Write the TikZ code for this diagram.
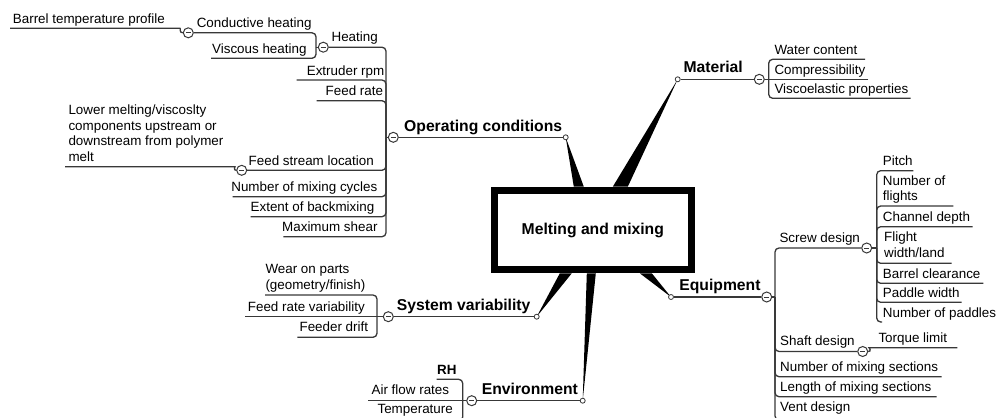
\documentclass[tikz,border=0pt]{standalone}
\usepackage{fontspec}
\setmainfont{Liberation Sans}
\usetikzlibrary{backgrounds}
\begin{document}
\begin{tikzpicture}[x=1pt,y=-1pt,
  topic/.style={font=\fontsize{13.4}{15.5}\selectfont, inner sep=0pt, align=left},
  boldtopic/.style={font=\bfseries\fontsize{13.4}{15.5}\selectfont, inner sep=0pt},
  branch/.style={font=\bfseries\fontsize{15.7}{18}\selectfont, inner sep=0pt},
  link/.style={draw=black!78, line width=1.3pt, rounded corners=4pt},
  toggle/.style={circle, draw=black!78, fill=white, line width=1pt, minimum size=10pt, inner sep=0pt,
    path picture={\draw[line width=1pt, black!78]
      ([xshift=2.6pt]path picture bounding box.west) -- ([xshift=-2.6pt]path picture bounding box.east);}},
  knob/.style={circle, draw=black!78, fill=white, line width=0.8pt, minimum size=5pt, inner sep=0pt},
  hub/.style={draw=black, line width=7pt, fill=white, minimum width=197pt, minimum height=79.6pt,
    inner sep=0pt, font=\bfseries\fontsize{15.7}{18}\selectfont},
  wedge/.style={fill=black}
]
\useasboundingbox (0,0) rectangle (997,418);
\clip (0,0) rectangle (997,418);

% ---------- central topic ----------
\node[hub] (hub) at (592.8,230) {Melting and mixing};

% ---------- Operating conditions ----------
\node[branch, anchor=base west] (op) at (404,131) {Operating conditions};
\node[toggle] (tOp) at (393.3,137.3) {};
\node[knob] (kOp) at (565.7,137.3) {};
\coordinate (sOp) at (386,137.3);

\node[topic, anchor=base east] (heat) at (378,41.8) {Heating};
\node[toggle] (tHeat) at (323.3,47.2) {};
\coordinate (sHeat) at (316,47.2);
\node[topic, anchor=base east] (cond) at (311.7,27.6) {Conductive heating};
\node[toggle] (tCond) at (188.3,32.8) {};
\node[topic, anchor=base east] (visc) at (306.7,53.3) {Viscous heating};
\coordinate (eVisc) at (211,58.3);
\node[topic, anchor=base west] (barrel) at (12.7,23.3) {Barrel temperature profile};
\coordinate (eBarrel) at (10,28.3);
\coordinate (jBarrel) at (176,28.3);

\node[topic, anchor=base east] (rpm) at (384.5,75) {Extruder rpm};
\coordinate (eRpm) at (296.7,80);
\node[topic, anchor=base east] (frate) at (383.3,95.5) {Feed rate};
\coordinate (eFrate) at (316.7,100.7);
\node[topic, anchor=base east] (fstream) at (374,165) {Feed stream location};
\node[toggle] (tFstream) at (241.7,170.3) {};
% multi-line nodes: the base anchor sits on the last line
\node[topic, anchor=base west] (lower) at (68.3,161)
  {Lower melting/viscoslty\\components upstream or\\downstream from polymer\\melt};
\coordinate (eLower) at (65,166.7);
\coordinate (jLower) at (231,166.7);
\node[topic, anchor=base east] (ncyc) at (377.5,191.5) {Number of mixing cycles};
\coordinate (eNcyc) at (232.7,196.7);
\node[topic, anchor=base east] (back) at (374.5,211.5) {Extent of backmixing};
\coordinate (eBack) at (250.7,216.7);
\node[topic, anchor=base east] (shear) at (377.7,231.5) {Maximum shear};
\coordinate (eShear) at (283.3,236.7);

% ---------- System variability ----------
\node[branch, anchor=base west] (sys) at (396.7,310.7) {System variability};
\node[toggle] (tSys) at (388.3,316.7) {};
\node[knob] (kSys) at (536.7,316.7) {};
\coordinate (sSys) at (377,316.7);
\node[topic, anchor=base west] (wear) at (265.3,289) {Wear on parts\\(geometry/finish)};
\coordinate (eWear) at (265,295);
\node[topic, anchor=base east] (fvar) at (365,311) {Feed rate variability};
\coordinate (eFvar) at (245,316.7);
\node[topic, anchor=base east] (drift) at (368.3,331.7) {Feeder drift};
\coordinate (eDrift) at (297.3,337.3);

% ---------- Environment ----------
\node[branch, anchor=base west] (env) at (481.7,394.5) {Environment};
\node[toggle] (tEnv) at (471.7,400.7) {};
\node[knob] (kEnv) at (582.7,400.7) {};
\coordinate (sEnv) at (462.7,400.7);
\node[boldtopic, anchor=base east] (rh) at (456.7,374.3) {RH};
\coordinate (eRh) at (436.7,379.3);
\node[topic, anchor=base east] (air) at (449.3,394.5) {Air flow rates};
\coordinate (eAir) at (368.3,400.7);
\node[topic, anchor=base east] (temp) at (453,413.5) {Temperature};
\coordinate (eTemp) at (375,421);

% ---------- Material ----------
\node[knob] (kMat) at (677.7,79.3) {};
\node[branch, anchor=base west] (mat) at (683.3,72.5) {Material};
\node[toggle] (tMat) at (759.3,79.3) {};
\coordinate (sMat) at (768.7,79.3);
\node[topic, anchor=base west] (water) at (774.3,54) {Water content};
\coordinate (eWater) at (865,59.3);
\node[topic, anchor=base west] (comp) at (774.3,74.3) {Compressibility};
\coordinate (eComp) at (868.3,79.3);
\node[topic, anchor=base west] (visco) at (774.3,93.3) {Viscoelastic properties};
\coordinate (eVisco) at (910.7,98.3);

% ---------- Equipment ----------
\node[knob] (kEq) at (671,297) {};
\node[branch, anchor=base east] (eq) at (760.7,290.5) {Equipment};
\node[toggle] (tEq) at (766.7,297) {};
\coordinate (sEq) at (775,297);

\node[topic, anchor=base west] (screw) at (779.3,242.8) {Screw design};
\node[toggle] (tScrew) at (866.7,248) {};
\coordinate (sScrew) at (876.7,248);
\node[topic, anchor=base west] (pitch) at (882.7,165.3) {Pitch};
\coordinate (ePitch) at (913.3,170.7);
\node[topic, anchor=base west] (nfl) at (882.7,200.5) {Number of\\flights};
\coordinate (eNfl) at (953.3,206);
\node[topic, anchor=base west] (chan) at (882.7,221.2) {Channel depth};
\coordinate (eChan) at (972.7,226.7);
\node[topic, anchor=base west] (flw) at (884,257) {Flight\\width/land};
\coordinate (eFlw) at (951.7,263.3);
\node[topic, anchor=base west] (bcl) at (882.7,278) {Barrel clearance};
\coordinate (eBcl) at (983.3,283.3);
\node[topic, anchor=base west] (pw) at (882.7,297) {Paddle width};
\coordinate (ePw) at (961.7,302.3);
\node[topic, anchor=base west] (npad) at (882.7,317) {Number of paddles};
\coordinate (eNpad) at (882,322);

\node[topic, anchor=base west] (shaft) at (780,345.5) {Shaft design};
\node[toggle] (tShaft) at (862.7,351.5) {};
\node[topic, anchor=base west] (torque) at (878.3,342.3) {Torque limit};
\coordinate (jTorque) at (873,347.7);
\coordinate (eTorque) at (957.3,347.7);
\node[topic, anchor=base west] (nsec) at (780,371.3) {Number of mixing sections};
\coordinate (eNsec) at (941.7,376.7);
\node[topic, anchor=base west] (lsec) at (780,391.3) {Length of mixing sections};
\coordinate (eLsec) at (936.7,396.7);
\node[topic, anchor=base west] (vent) at (780,411) {Vent design};
\coordinate (eVent) at (860,420);

% ---------- connectors, behind the nodes ----------
\begin{scope}[on background layer]
  \fill[white] (0,0) rectangle (997,418);

  % tapered links from the central topic
  \fill[wedge] (kOp.center) -- ([xshift=-19pt]hub.north) -- ([xshift=-9pt]hub.north) -- cycle;
  \fill[wedge] (kMat.center) -- ([xshift=20pt]hub.north) -- ([xshift=35pt]hub.north) -- cycle;
  \fill[wedge] (kEq.center) -- ([xshift=47pt]hub.south) -- ([xshift=59pt]hub.south) -- cycle;
  \fill[wedge] (kSys.center) -- ([xshift=-33pt]hub.south) -- ([xshift=-21pt]hub.south) -- cycle;
  \fill[wedge] (kEnv.center) -- ([xshift=-6pt]hub.south) -- ([xshift=3pt]hub.south) -- cycle;

  % Operating conditions
  \draw[link] (tOp) -- (kOp);
  \draw[link] (sOp) -- (tOp);
  \draw[link] (tHeat) -- (sOp |- tHeat) -- (sOp);
  \draw[link] (eRpm) -- (sOp |- eRpm) -- (sOp);
  \draw[link] (eFrate) -- (sOp |- eFrate) -- (sOp);
  \draw[link] (tFstream) -- (sOp |- tFstream) -- (sOp);
  \draw[link] (eNcyc) -- (sOp |- eNcyc) -- (sOp);
  \draw[link] (eBack) -- (sOp |- eBack) -- (sOp);
  \draw[link] (eShear) -- (sOp |- eShear) -- (sOp);
  \draw[link] (sHeat) -- (tHeat);
  \draw[link] (tCond) -- (sHeat |- tCond) -- (sHeat);
  \draw[link] (eVisc) -- (sHeat |- eVisc) -- (sHeat);
  \draw[link] (eBarrel) -- (jBarrel) .. controls +(5,0) and +(-4,0) .. (tCond.west);
  \draw[link] (eLower) -- (jLower) .. controls +(4,0) and +(-3,0) .. (tFstream.west);

  % System variability
  \draw[link] (tSys) -- (kSys);
  \draw[link] (sSys) -- (tSys);
  \draw[link] (eWear) -- (sSys |- eWear) -- (sSys);
  \draw[link] (eFvar) -- (sSys);
  \draw[link] (eDrift) -- (sSys |- eDrift) -- (sSys);

  % Environment
  \draw[link] (tEnv) -- (kEnv);
  \draw[link] (sEnv) -- (tEnv);
  \draw[link] (eRh) -- (sEnv |- eRh) -- (sEnv);
  \draw[link] (eAir) -- (sEnv);
  \draw[link] (eTemp) -- (sEnv |- eTemp) -- (sEnv);

  % Material
  \draw[link] (kMat) -- (tMat);
  \draw[link] (tMat) -- (sMat);
  \draw[link] (eWater) -- (sMat |- eWater) -- (sMat);
  \draw[link] (eComp) -- (sMat);
  \draw[link] (eVisco) -- (sMat |- eVisco) -- (sMat);

  % Equipment
  \draw[link] (kEq) -- (tEq);
  \draw[link] (tEq) -- (sEq);
  \draw[link] (tScrew) -- (sEq |- tScrew) -- (sEq);
  \draw[link] (tShaft) -- (sEq |- tShaft) -- (sEq);
  \draw[link] (eNsec) -- (sEq |- eNsec) -- (sEq);
  \draw[link] (eLsec) -- (sEq |- eLsec) -- (sEq);
  \draw[link] (eVent) -- (sEq |- eVent) -- (sEq);
  \draw[link] (tShaft.east) .. controls +(4,0) and +(-4,0) .. (jTorque) -- (eTorque);

  % Screw design
  \draw[link] (tScrew) -- (sScrew);
  \draw[link] (ePitch) -- (sScrew |- ePitch) -- (sScrew);
  \draw[link] (eNfl) -- (sScrew |- eNfl) -- (sScrew);
  \draw[link] (eChan) -- (sScrew |- eChan) -- (sScrew);
  \draw[link] (eFlw) -- (sScrew |- eFlw) -- (sScrew);
  \draw[link] (eBcl) -- (sScrew |- eBcl) -- (sScrew);
  \draw[link] (ePw) -- (sScrew |- ePw) -- (sScrew);
  \draw[link] (eNpad) -- (sScrew |- eNpad) -- (sScrew);
\end{scope}
\end{tikzpicture}
\end{document}
